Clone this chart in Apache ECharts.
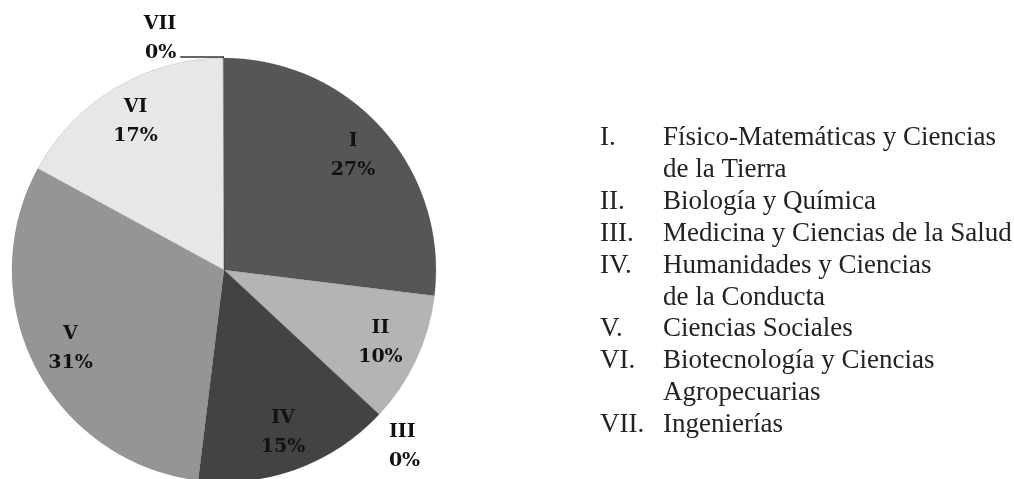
<!DOCTYPE html>
<html>
<head>
<meta charset="utf-8">
<script src="https://cdn.jsdelivr.net/npm/echarts@6/dist/echarts.min.js"></script>
<style>
  html, body { margin: 0; padding: 0; background: #fff; }
</style>
</head>
<body>
<div id="main" style="width:1014px; height:479px"></div>
<script>
// datos del gráfico
var areas = ["I", "II", "III", "IV", "V", "VI", "VII"];
var porcentajes = [27, 10, 0, 15, 31, 17, 0];
var colores = ["#565656", "#b4b4b4", "#9a9a9a", "#434343", "#959595", "#e7e7e7", "#cccccc"];
var numerales = ["I.", "II.", "III.", "IV.", "V.", "VI.", "VII."];
var descripciones = [
  "Físico-Matemáticas y Ciencias\nde la Tierra",
  "Biología y Química",
  "Medicina y Ciencias de la Salud",
  "Humanidades y Ciencias\nde la Conducta",
  "Ciencias Sociales",
  "Biotecnología y Ciencias\nAgropecuarias",
  "Ingenierías"
];

var centro = [224, 270];
var radio = 212;
var fuenteEtiqueta = {
  fontFamily: "DejaVu Serif",
  fontWeight: "bold",
  fontSize: 19,
  lineHeight: 29,
  color: "#111"
};

// sectores visibles (las etiquetas de los valores 0 van por fuera)
var datosPie = areas.map(function (a, i) {
  var item = { name: a, value: porcentajes[i], itemStyle: { color: colores[i] } };
  if (porcentajes[i] === 0) {
    item.label = { show: true };
    if (a === "VII") {
      item.labelLine = { show: true, length: 1, length2: 43 };
    } else {
      // espacio arriba para bajar el texto
      item.label.formatter = "{e| }\n{b}\n{c}%";
      item.label.rich = { e: { lineHeight: 54, fontSize: 10 } };
      item.label.align = "center";
      item.labelLine = { show: false, length: 8, length2: 0 };
    }
  }
  return item;
});

// anillo transparente solo para colocar las etiquetas internas a 0.8 del radio
var datosEtiquetas = areas.map(function (a, i) {
  return {
    name: a,
    value: porcentajes[i],
    label: { show: porcentajes[i] > 0 }
  };
});

// leyenda de texto a la derecha
var graficos = [];
var y = 138;
var paso = 31.9;
descripciones.forEach(function (d, i) {
  graficos.push({
    type: "text",
    left: 600,
    top: y - paso / 2,
    style: { text: numerales[i], font: "27px 'Liberation Serif'", fill: "#222", lineHeight: paso }
  });
  graficos.push({
    type: "text",
    left: 663,
    top: y - paso / 2,
    style: { text: d, font: "27px 'Liberation Serif'", fill: "#222", lineHeight: paso }
  });
  y += paso * d.split("\n").length;
});

var myChart = echarts.init(document.getElementById("main"));
myChart.setOption({
  animation: false,
  backgroundColor: "#fff",
  graphic: graficos,
  series: [
    {
      type: "pie",
      center: centro,
      radius: [0, radio],
      startAngle: 90.2,
      clockwise: true,
      silent: true,
      avoidLabelOverlap: false,
      itemStyle: { borderColor: "rgba(60,60,60,0.3)", borderWidth: 0.5 },
      label: Object.assign({ show: false, position: "outside", formatter: "{b}\n{c}%", distanceToLabelLine: 4 }, fuenteEtiqueta),
      labelLine: { lineStyle: { color: "#333", width: 1.5 } },
      // la etiqueta de VII se sube para quedar sobre su línea guía
      labelLayout: function (p) {
        if (p.dataIndex === 6 && p.labelLinePoints) {
          var pts = p.labelLinePoints;
          return {
            x: pts[2][0] - 4,
            y: pts[2][1] - 18,
            align: "right",
            verticalAlign: "middle",
            labelLinePoints: pts
          };
        }
      },
      data: datosPie
    },
    {
      type: "pie",
      center: centro,
      radius: [radio * 0.6, radio],
      startAngle: 90.2,
      clockwise: true,
      silent: true,
      avoidLabelOverlap: false,
      itemStyle: { color: "rgba(0,0,0,0)" },
      label: Object.assign({ position: "inside", formatter: "{b}\n{c}%" }, fuenteEtiqueta),
      labelLine: { show: false },
      data: datosEtiquetas
    }
  ]
});
</script>
</body>
</html>
